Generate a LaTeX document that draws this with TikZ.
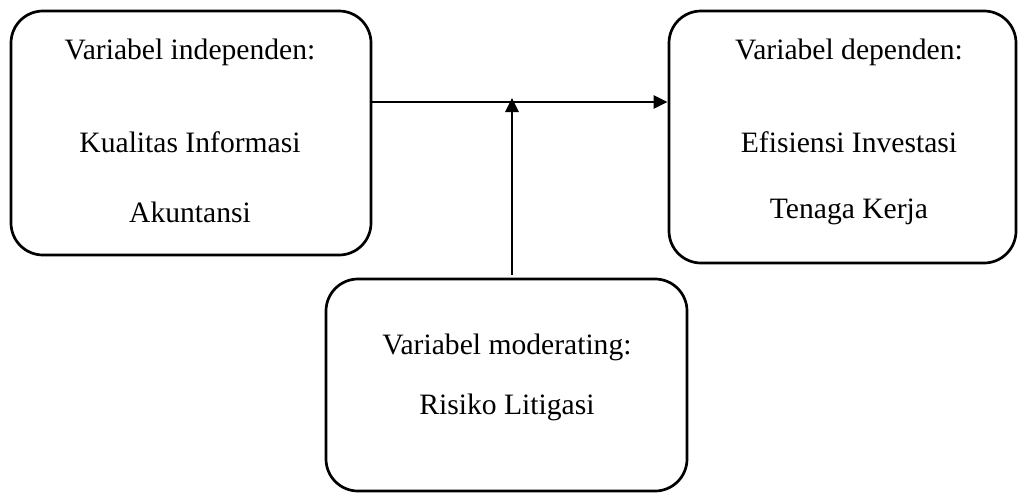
\documentclass[tikz,border=0pt]{standalone}
\usepackage{fontspec}
\setmainfont{Liberation Serif}
\usetikzlibrary{arrows.meta}
\tikzset{
  varbox/.style={draw, line width=2.7pt, rounded corners=32pt, inner sep=0pt},
  vartext/.style={font=\fontsize{29.6}{36}\selectfont, inner sep=0pt, anchor=center},
  link/.style={line width=2.7pt, -{Triangle[length=14pt,width=13pt]}}
}
\begin{document}
\begin{tikzpicture}[x=1pt,y=-1pt]
			\useasboundingbox (0,0) rectangle (1019,493);
			\node [varbox, minimum width=360pt, minimum height=244pt] (indep) at (191,133) {};
			\node [varbox, minimum width=347pt, minimum height=252pt] (dep) at (842.5,137) {};
			\node [varbox, minimum width=361pt, minimum height=212pt] (mod) at (506.5,385) {};
			
			\node [vartext] (indeptitle) at (190,52) {Variabel independen:};
			\node [vartext] (indepa) at (190,142) {Kualitas Informasi};
			\node [vartext] (indepb) at (190,212) {Akuntansi};
			\node [vartext] (deptitle) at (849,52) {Variabel dependen:};
			\node [vartext] (depa) at (849,142) {Efisiensi Investasi};
			\node [vartext] (depb) at (849,212) {Tenaga Kerja};
			\node [vartext] (modtitle) at (507,347) {Variabel moderating:};
			\node [vartext] (moda) at (507,407) {Risiko Litigasi};
			
			\coordinate (meet) at (512,102);
			\draw [link] (indep.east |- meet) -- (dep.west |- meet);
			\draw [link, shorten <=3pt, shorten >=-4pt] (mod.north -| meet) -- (meet);
		\end{tikzpicture}
\end{document}
